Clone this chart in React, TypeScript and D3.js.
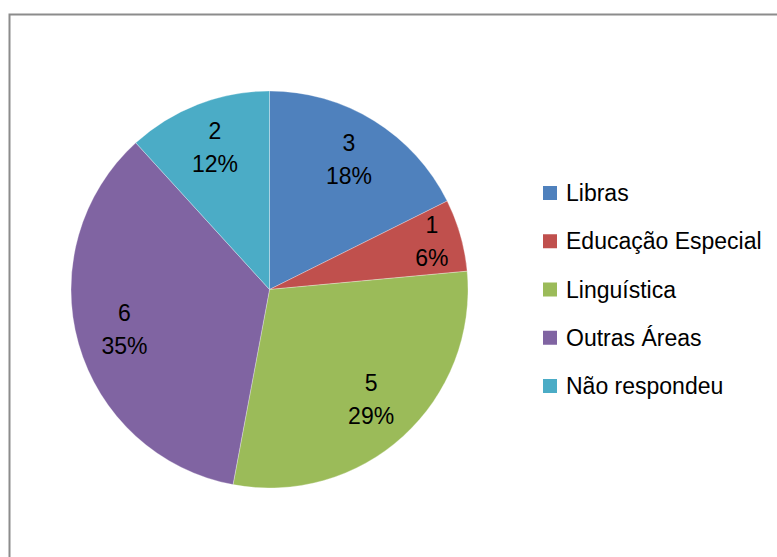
import * as d3 from "d3";
import { useEffect, useRef } from "react";

const categories = ["Libras", "Educação Especial", "Linguística", "Outras Áreas", "Não respondeu"];
const counts = [3, 1, 5, 6, 2];
const percentLabels = ["18%", "6%", "29%", "35%", "12%"];
const colors = ["#4F81BD", "#C0504D", "#9BBB59", "#8064A2", "#4BACC6"];

const width = 777;
const height = 557;

export default function App() {
  const ref = useRef<SVGSVGElement>(null);

  useEffect(() => {
    const svg = d3.select(ref.current);
    svg.selectAll("*").remove();

    const font = "'Liberation Sans', Arial, sans-serif";
    const fontSize = 23;

    // chart area frame (cut off at right and bottom like the original)
    svg
      .append("rect")
      .attr("x", 9.5)
      .attr("y", 14.5)
      .attr("width", width + 10)
      .attr("height", height + 10)
      .attr("fill", "#fff")
      .attr("stroke", "#8c8c8c")
      .attr("stroke-width", 2);

    const cx = 269.5;
    const cy = 289.5;
    const r = 198.5;
    const total = d3.sum(counts);

    const pie = d3
      .pie<number>()
      .sort(null)
      .value((d) => d);
    const arcs = pie(counts);

    const arc = d3.arc<d3.PieArcDatum<number>>().innerRadius(0).outerRadius(r);

    const g = svg.append("g").attr("transform", `translate(${cx},${cy})`);

    g.selectAll("path")
      .data(arcs)
      .join("path")
      .attr("d", arc)
      .attr("fill", (d, i) => colors[i])
      .attr("stroke", "#fff")
      .attr("stroke-opacity", 0.5)
      .attr("stroke-width", 0.6);

    // data labels: value + percent, placed inside each slice
    const labelArc = (d: d3.PieArcDatum<number>) => {
      const small = d.data / total < 0.1;
      const lr = small ? r * 0.85 : r * 0.76;
      return d3.arc<d3.PieArcDatum<number>>().innerRadius(lr).outerRadius(lr).centroid(d);
    };

    const labels = g
      .selectAll("text.lbl")
      .data(arcs)
      .join("text")
      .attr("class", "lbl")
      .attr("font-family", font)
      .attr("font-size", fontSize)
      .attr("fill", "#000")
      .attr("text-anchor", "middle")
      .attr("transform", (d) => {
        const [x, y] = labelArc(d);
        return `translate(${x},${y})`;
      });

    labels
      .append("tspan")
      .attr("x", 0)
      .attr("y", -10)
      .text((d) => String(d.data));
    labels
      .append("tspan")
      .attr("x", 0)
      .attr("y", 23)
      .text((d, i) => percentLabels[i]);

    // legend
    const legendY = d3
      .scalePoint<string>()
      .domain(categories)
      .range([193, 386]);

    const legend = svg
      .append("g")
      .selectAll("g")
      .data(categories)
      .join("g")
      .attr("transform", (d) => `translate(543,${legendY(d)})`);

    legend
      .append("rect")
      .attr("x", 0)
      .attr("y", -7)
      .attr("width", 14)
      .attr("height", 14)
      .attr("fill", (d, i) => colors[i]);

    legend
      .append("text")
      .attr("x", 23)
      .attr("y", 8)
      .attr("font-family", font)
      .attr("font-size", fontSize)
      .attr("fill", "#000")
      .text((d) => d);
  }, []);

  return (
    <svg
      ref={ref}
      width={width}
      height={height}
      style={{ position: "absolute", left: 0, top: 0, display: "block" }}
    ></svg>
  );
}
